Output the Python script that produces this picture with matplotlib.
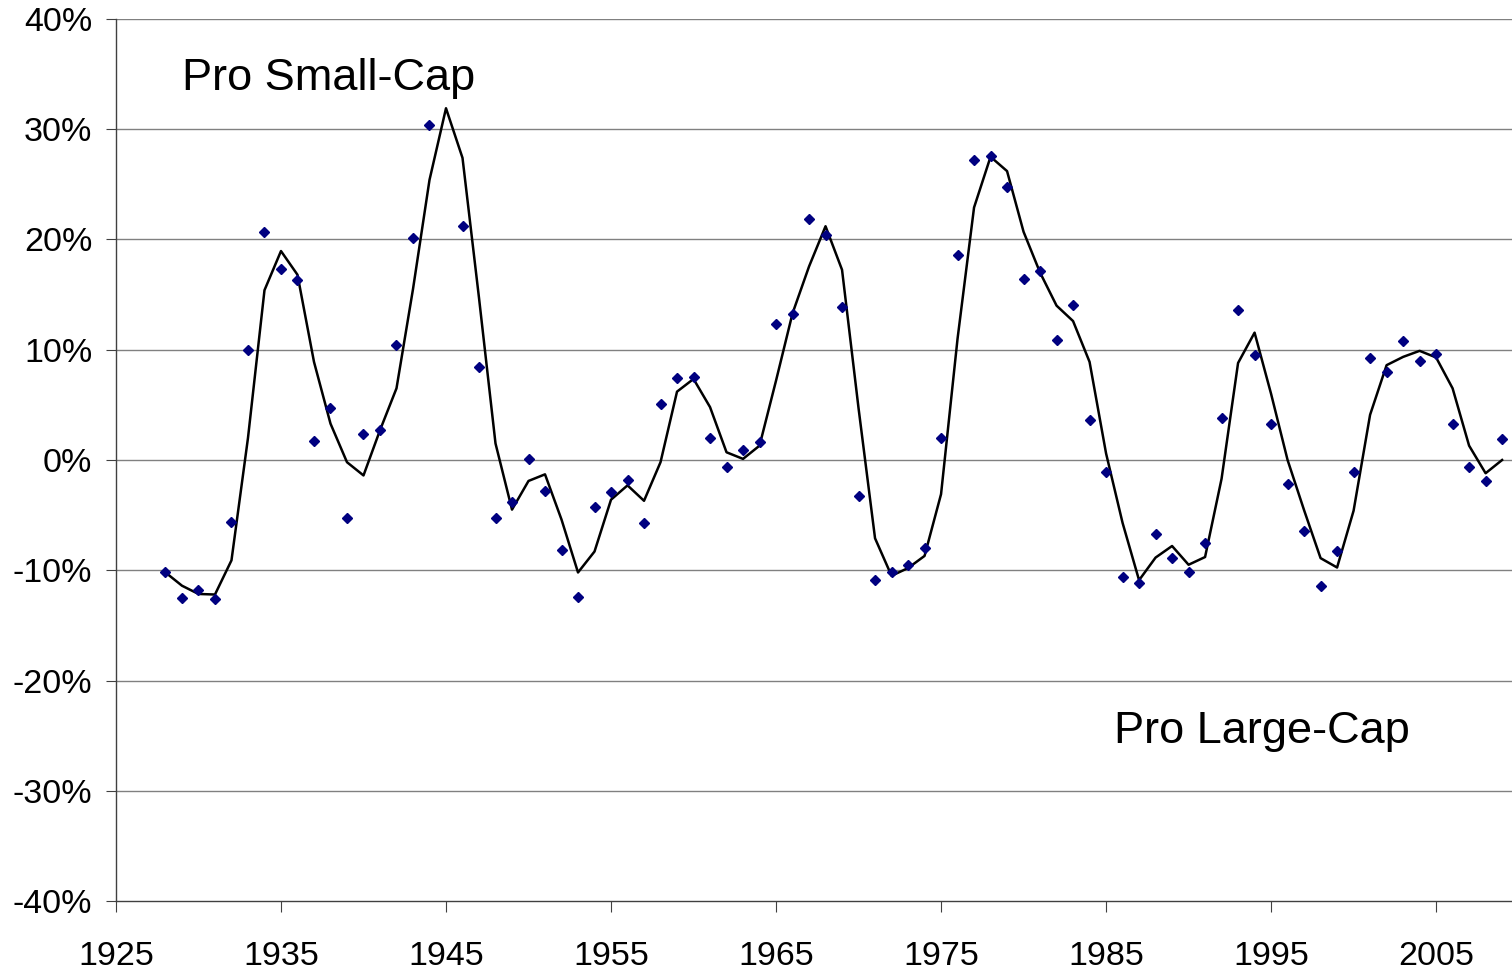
import matplotlib
matplotlib.use("Agg")
import matplotlib.pyplot as plt
import numpy as np
from matplotlib.ticker import FuncFormatter

plt.rcParams['font.family'] = ['Liberation Sans', 'DejaVu Sans']

# years covered by the chart
years = np.arange(1928, 2010)

# yearly values (dots), in percent
yearly = [-10.2, -12.5, -11.8, -12.6, -5.6, 10.0, 20.65, 17.3, 16.35, 1.7,
          4.75, -5.25, 2.35, 2.7, 10.45, 20.1, 30.4, np.nan, 21.2, 8.4,
          -5.3, -3.8, 0.1, -2.8, -8.2, -12.4, -4.3, -2.9, -1.8, -5.7,
          5.1, 7.4, 7.5, 2.0, -0.6, 0.9, 1.6, 12.35, 13.2, 21.9,
          20.4, 13.9, -3.3, -10.9, -10.2, -9.5, -8.0, 2.0, 18.55, 27.2,
          27.6, 24.8, 16.4, 17.1, 10.9, 14.1, 3.6, -1.05, -10.6, -11.2,
          -6.7, -8.9, -10.2, -7.5, 3.8, 13.6, 9.5, 3.25, -2.2, -6.4,
          -11.45, -8.25, -1.05, 9.25, 7.97, 10.8, 9.0, 9.6, 3.3, -0.6,
          -1.9, 1.9]

# smoothed line, in percent
smooth = [-10.2, -11.4, -12.15, -12.2, -9.1, 2.0, 15.4, 18.95, 16.8, 8.9,
          3.3, -0.2, -1.4, 2.7, 6.5, 15.5, 25.4, 31.9, 27.4, 14.7,
          1.5, -4.5, -1.9, -1.3, -5.4, -10.2, -8.3, -3.6, -2.3, -3.7,
          -0.2, 6.2, 7.35, 4.8, 0.7, 0.1, 1.3, 7.2, 13.3, 17.55,
          21.2, 17.25, 4.7, -7.1, -10.5, -9.8, -8.7, -3.1, 11.0, 22.9,
          27.5, 26.2, 20.7, 17.0, 14.0, 12.6, 8.9, 0.6, -5.7, -10.9,
          -8.85, -7.8, -9.5, -8.8, -1.7, 8.8, 11.55, 6.0, 0.0, -4.55,
          -8.9, -9.75, -4.6, 4.1, 8.6, 9.35, 9.9, 9.3, 6.5, 1.3,
          -1.2, 0.0]

x_ticks = [1925, 1935, 1945, 1955, 1965, 1975, 1985, 1995, 2005]
y_ticks = np.arange(-40, 41, 10)

fig = plt.figure(figsize=(15.12, 9.72), dpi=100)
ax = fig.add_axes([0.0767, 0.073, 0.9233, 0.9075])

ax.plot(years, smooth, color='black', lw=1.8, zorder=2)
ax.plot(years, yearly, ls='none', marker='D', ms=5.3, color='#000080', zorder=3)

ax.set_xlim(1925, 2009.6)
ax.set_ylim(-40, 40)
ax.set_xticks(x_ticks)
ax.set_yticks(y_ticks)
ax.yaxis.set_major_formatter(FuncFormatter(lambda v, p: '%d%%' % v))

for y in y_ticks[1:]:
    ax.axhline(y, color='#808080', lw=1, zorder=1)

for s in ['top', 'right']:
    ax.spines[s].set_visible(False)
for s in ['left', 'bottom']:
    ax.spines[s].set_color('#404040')
    ax.spines[s].set_linewidth(1)

ax.tick_params(axis='y', labelsize=24.5, length=7, pad=10, color='#404040')
ax.tick_params(axis='x', labelsize=24.5, length=8, pad=21, color='#404040')

ax.text(1929.0, 34.6, 'Pro Small-Cap', fontsize=32.5, va='center', ha='left')
ax.text(1985.5, -24.6, 'Pro Large-Cap', fontsize=32.5, va='center', ha='left')

fig.savefig('out.png', dpi=100)
